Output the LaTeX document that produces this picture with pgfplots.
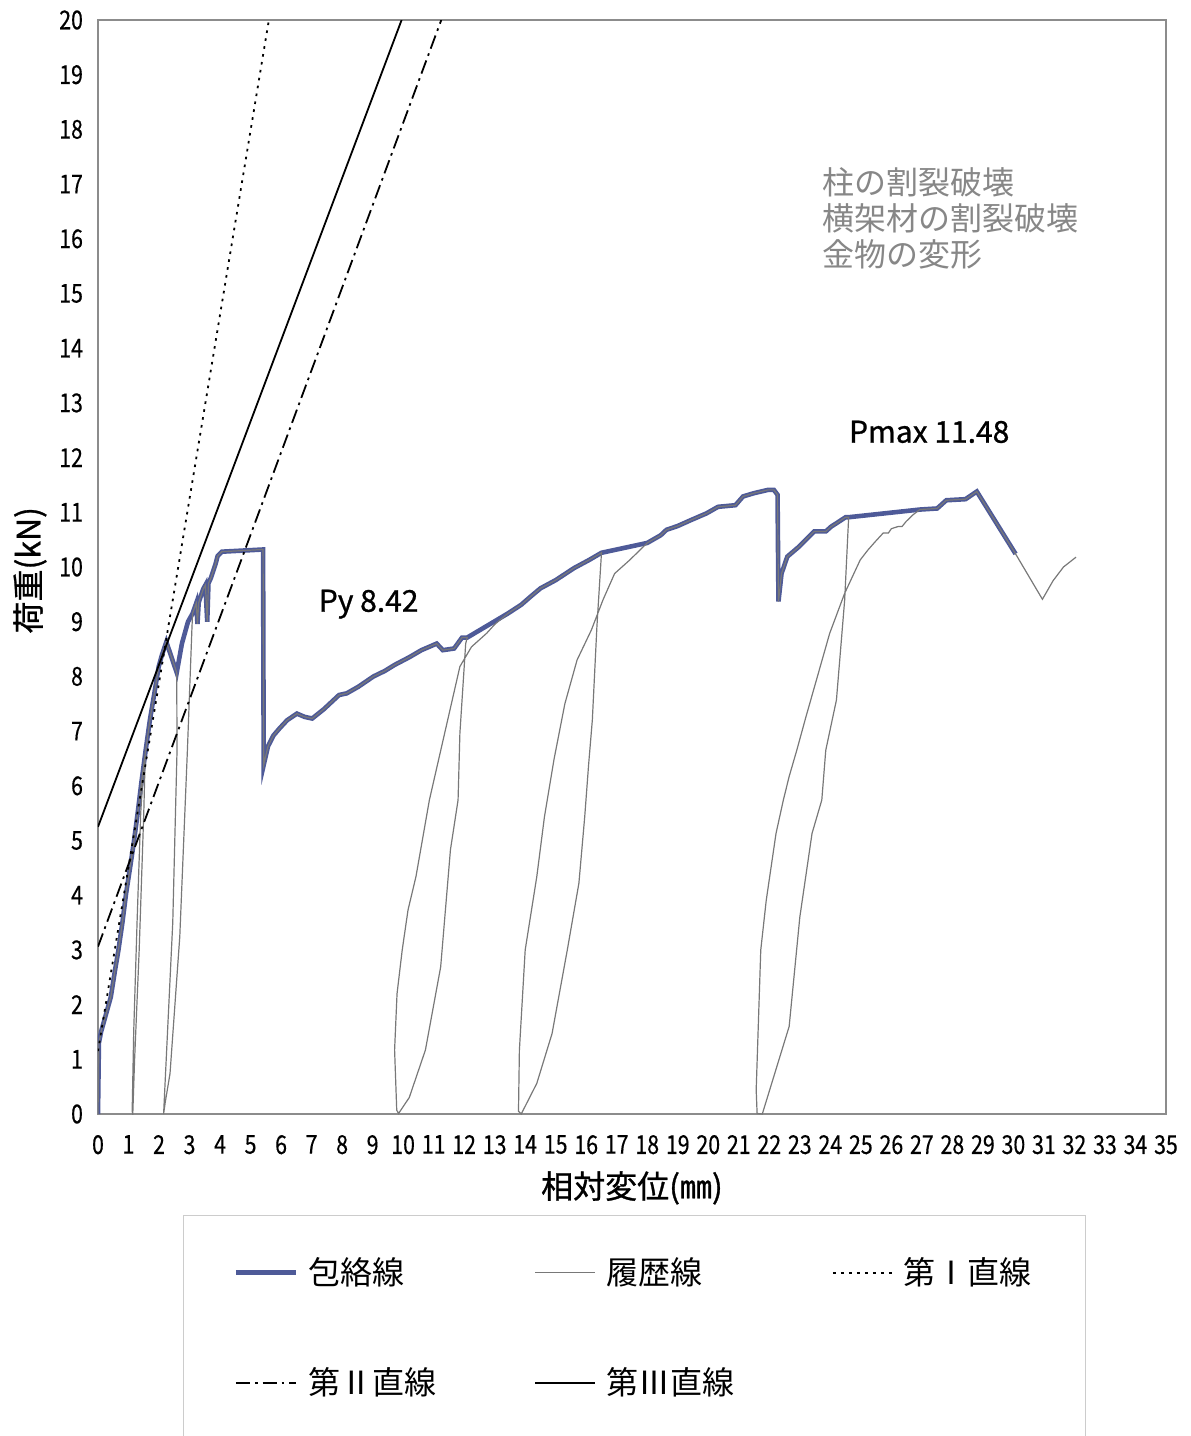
\documentclass[border=0pt]{standalone}
\usepackage{pgfplots}
\pgfplotsset{compat=1.18}
\usepackage{fontspec}
\setmainfont{Noto Sans CJK JP}
\newfontfamily\tickfont[FakeStretch=0.82,FakeBold=0.4]{Noto Sans CJK JP}
\newfontfamily\medfont[FakeBold=0.9]{Noto Sans CJK JP}
\definecolor{envcol}{RGB}{78,90,152}
\definecolor{hyscol}{RGB}{120,120,120}
\definecolor{notecol}{RGB}{135,135,135}
\begin{document}
\begin{tikzpicture}
\begin{axis}[
 scale only axis, width=534pt, height=547pt,
 xmin=0, xmax=35, ymin=0, ymax=20,
 xtick={0,1,...,35}, ytick={0,1,...,20},
 major tick length=0pt,
 axis line style={draw=black!45, line width=0.7pt},
 tick label style={font=\tickfont\fontsize{13}{13}\selectfont},
 /pgf/number format/assume math mode=true,
 xticklabel style={yshift=-7pt},
 yticklabel style={xshift=-4pt},
 xlabel={相対変位(㎜)}, ylabel={荷重(kN)},
 label style={font=\medfont\fontsize{16}{16}\selectfont},
 xlabel style={at={(axis description cs:0.5,-0.0676)}, anchor=center},
 ylabel style={at={(axis description cs:-0.0637,0.497)}, anchor=center},
 legend columns=3,
 legend style={at={(0.0796,-0.0923)}, anchor=north west, draw=black!20, line width=0.6pt,
   inner xsep=25pt, inner ysep=21pt, font=\fontsize{16}{16}\selectfont,
   nodes={inner sep=0pt, anchor=west}, column sep=0pt, row sep=40pt,
   /tikz/every even column/.append style={column sep=5pt}},
 legend image code/.code={\draw[#1] (0pt,0pt) -- (30pt,0pt);},
]
\coordinate (O) at (rel axis cs:0,0);
% envelope
\addplot[envcol, line width=2.3pt] coordinates {
(0,0)(0.03,1.3)(0.1,1.5)(0.25,1.8)(0.42,2.14)(0.55,2.6)(0.67,3.0)(0.8,3.5)(0.92,4.03)(1.05,4.5)
(1.17,4.95)(1.3,5.5)(1.42,6.05)(1.55,6.6)(1.7,7.2)(1.85,7.7)(1.99,8.18)(2.1,8.4)(2.24,8.63)
(2.58,8.07)(2.75,8.6)(2.95,9.0)(3.1,9.15)(3.22,9.34)(3.26,8.96)(3.3,9.35)(3.45,9.6)(3.52,9.67)
(3.58,9.0)(3.62,9.7)(3.7,9.8)(3.85,10.05)(3.92,10.2)(4.06,10.28)(5.41,10.32)(5.43,6.38)
(5.57,6.72)(5.75,6.92)(5.95,7.05)(6.2,7.2)(6.52,7.32)(6.77,7.26)(7.02,7.23)(7.4,7.4)(7.9,7.66)
(8.15,7.69)(8.53,7.81)(9.03,8.0)(9.4,8.1)(9.72,8.21)(10.2,8.35)(10.6,8.48)(11.1,8.6)(11.3,8.48)
(11.67,8.51)(11.93,8.71)(12.1,8.71)(13.43,9.15)(13.87,9.31)(14.2,9.47)(14.5,9.61)(15.0,9.76)
(15.6,9.98)(16.1,10.13)(16.5,10.26)(18.0,10.44)(18.44,10.58)(18.63,10.68)(19.0,10.75)(19.44,10.86)
(19.94,10.98)(20.32,11.10)(20.89,11.13)(21.14,11.29)(21.5,11.35)(21.96,11.41)(22.15,11.41)
(22.27,11.32)(22.3,9.37)(22.4,9.88)(22.59,10.19)(22.97,10.37)(23.2,10.5)(23.47,10.65)(23.85,10.65)
(24.03,10.74)(24.2,10.8)(24.5,10.91)(24.6,10.91)(26.93,11.05)(27.5,11.07)(27.8,11.22)(28.43,11.24)
(28.8,11.38)(30.07,10.24)};
\addlegendentry{\makebox[113pt][l]{\hspace{5pt}包絡線}}
% hysteresis
\addplot[hyscol, line width=0.6pt] coordinates {
(0,0)(0.03,1.3)(0.1,1.5)(0.25,1.8)(0.42,2.14)(0.55,2.6)(0.67,3.0)(0.8,3.5)(0.92,4.03)(1.05,4.5)
(1.17,4.95)(1.3,5.5)(1.42,6.05)(1.55,6.6)
(1.5,5.5)(1.35,3.0)(1.2,1.0)(1.14,0)
(1.12,0.05)(1.17,1.5)(1.28,3.5)(1.4,5.5)(1.5,6.4)(1.6,6.8)(1.7,7.2)
(1.85,7.7)(1.99,8.18)(2.1,8.4)(2.24,8.63)(2.58,8.07)
(2.59,6.65)(2.45,3.5)(2.15,0)
(2.2,0.2)(2.36,0.74)(2.68,3.24)(2.93,6.65)(3.02,8.0)(3.08,8.9)(3.1,9.15)
(3.22,9.34)(3.26,8.96)(3.3,9.35)(3.45,9.6)(3.52,9.67)
(3.58,9.0)(3.62,9.7)(3.7,9.8)(3.85,10.05)(3.92,10.2)(4.06,10.28)(5.41,10.32)(5.43,6.38)
(5.57,6.72)(5.75,6.92)(5.95,7.05)(6.2,7.2)(6.52,7.32)(6.77,7.26)(7.02,7.23)(7.4,7.4)(7.9,7.66)
(8.15,7.69)(8.53,7.81)(9.03,8.0)(9.4,8.1)(9.72,8.21)(10.2,8.35)(10.6,8.48)(11.1,8.6)(11.3,8.48)
(11.67,8.51)(11.93,8.71)(12.1,8.71)
(12.05,8.6)(11.86,6.96)(11.8,5.74)(11.55,4.83)(11.23,2.69)(10.73,1.17)(10.2,0.3)(9.85,0.01)
(9.79,0.07)(9.72,1.17)(9.8,2.2)(9.97,3.0)(10.16,3.73)(10.42,4.34)(10.86,5.74)(11.36,6.96)
(11.86,8.18)(12.24,8.54)(12.74,8.79)(13.0,8.95)(13.43,9.15)
(13.87,9.31)(14.2,9.47)(14.5,9.61)(15.0,9.76)(15.6,9.98)(16.1,10.13)(16.5,10.26)
(16.35,8.91)(16.2,7.2)(16.08,6.4)(15.95,5.43)(15.76,4.22)(15.38,3.0)(14.88,1.47)(14.38,0.56)(13.87,0)
(13.78,0.05)(13.81,1.17)(14.0,3.0)(14.38,4.34)(14.63,5.43)(14.95,6.5)(15.3,7.5)(15.7,8.3)
(16.17,8.85)(16.55,9.40)(16.93,9.88)(17.43,10.13)(18.0,10.44)
(18.44,10.58)(18.63,10.68)(19.0,10.75)(19.44,10.86)
(19.94,10.98)(20.32,11.10)(20.89,11.13)(21.14,11.29)(21.5,11.35)(21.96,11.41)(22.15,11.41)
(22.27,11.32)(22.3,9.37)(22.4,9.88)(22.59,10.19)(22.97,10.37)(23.2,10.5)(23.47,10.65)(23.85,10.65)
(24.03,10.74)(24.2,10.8)(24.5,10.91)(24.6,10.91)
(24.47,9.40)(24.2,7.57)(23.85,6.65)(23.72,5.74)(23.4,5.13)(23.0,3.6)(22.65,1.6)(21.77,0)
(21.6,0.01)(21.57,0.44)(21.72,3.0)(21.9,3.91)(22.22,5.13)(22.46,5.74)(22.65,6.17)(22.9,6.65)
(23.2,7.26)(23.98,8.79)(24.47,9.52)(24.98,10.13)(25.23,10.31)(25.45,10.45)(25.73,10.62)(25.9,10.62)
(26.0,10.7)(26.22,10.74)(26.35,10.74)(26.48,10.83)(26.7,10.95)(26.93,11.05)
(27.5,11.07)(27.8,11.22)(28.43,11.24)(28.8,11.38)(30.07,10.24)
(30.95,9.41)(31.3,9.75)(31.64,10.0)(32.05,10.18)};
\addlegendentry{\makebox[113pt][l]{\hspace{5pt}履歴線}}
\addplot[black, line width=0.9pt, dash pattern=on 1.3pt off 2.7pt] coordinates {(0,1.15)(5.6,20)};
\addlegendentry{\makebox[71pt][l]{\hspace{5pt}第Ⅰ直線}}
\addplot[black, line width=0.9pt, dash pattern=on 7pt off 2.5pt on 1.3pt off 2.5pt] coordinates {(0,3.06)(11.25,20)};
\addlegendentry{\makebox[113pt][l]{\hspace{5pt}第Ⅱ直線}}
\addplot[black, line width=0.9pt] coordinates {(0,5.25)(9.95,20)};
\addlegendentry{\makebox[113pt][l]{\hspace{5pt}第Ⅲ直線}}
\node[font=\medfont\fontsize{15}{15}\selectfont] at (axis cs:8.87,9.32) {Py 8.42};
\node[font=\medfont\fontsize{15}{15}\selectfont] at (axis cs:27.24,12.47) {Pmax 11.48};
\node[anchor=north west, inner sep=0pt, align=left, text=notecol, font=\fontsize{16}{18}\selectfont]
  at (axis cs:23.73,17.31) {柱の割裂破壊\\横架材の割裂破壊\\金物の変形};
\end{axis}
\pgfresetboundingbox
\useasboundingbox ([shift={(-49pt,-161pt)}]O) rectangle ([shift={(546pt,557pt)}]O);
\end{tikzpicture}
\end{document}
